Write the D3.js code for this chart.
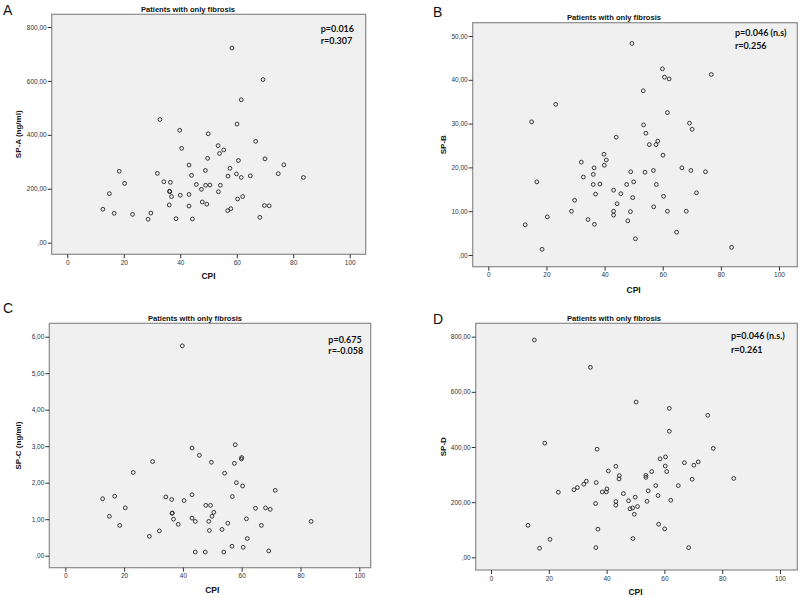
<!DOCTYPE html>
<html><head><meta charset="utf-8">
<script src="https://cdn.jsdelivr.net/npm/d3@7"></script>
<style>body{margin:0;background:#fff}svg{display:block}</style>
</head><body>
<svg id="c" width="800" height="598"></svg>
<script>
const title = "Patients with only fibrosis";
const xLabel = "CPI";
const cpiTicks = [0, 20, 40, 60, 80, 100];
const spaTicks = [0, 200, 400, 600, 800];
const spbTicks = [0, 10, 20, 30, 40, 50];
const spcTicks = [0, 1, 2, 3, 4, 5, 6];
const spdTicks = [0, 200, 400, 600, 800];

const cpiA = [12.6,14.9,16.6,18.4,20.3,23.1,28.6,29.6,31.9,32.8,34.2,36.1,36.2,36.3,36.5,36.9,38.5,39.8,40.0,40.5,43.1,43.1,43.1,44.0,44.3,45.7,47.5,47.8,48.9,49.0,49.4,49.7,49.9,50.5,53.4,53.5,53.9,54.2,55.4,56.8,56.9,57.6,57.9,58.3,59.9,60.1,60.3,60.6,61.6,61.6,62.1,64.8,66.7,68.2,69.3,69.8,70.0,71.5,74.7,76.7,83.6];
const spA = [124,182,109,265,220,105,87,110,257,457,226,140,191,189,224,171,89,417,176,350,288,179,136,250,88,216,198,151,268,213,143,313,404,214,360,189,331,213,344,119,247,276,126,722,255,440,162,305,530,242,171,248,376,94,605,138,311,137,256,289,242];

const cpiB = [12.7,14.9,16.7,18.5,20.3,23.2,28.6,29.7,32.0,32.7,34.3,36.1,36.1,36.4,36.5,36.9,38.4,39.8,39.9,40.6,43.1,43.1,43.1,44.0,44.3,45.6,47.6,48.0,48.9,49.0,49.4,49.7,50.0,50.6,53.3,53.4,53.9,54.2,55.4,56.8,56.9,57.7,57.8,58.3,59.9,60.1,60.3,60.6,61.6,61.6,62.2,64.8,66.6,68.1,69.2,69.7,70.1,71.6,74.7,76.7,83.7];
const spB = [6.9,30.4,16.7,1.3,8.7,34.4,10.0,12.5,21.2,17.8,8.1,18.4,16.1,19.9,7.0,13.9,16.2,23.0,20.5,21.7,14.8,10.0,9.1,26.9,11.7,14.0,16.1,7.8,9.9,19.0,48.3,13.1,16.7,3.7,37.5,29.7,18.9,27.8,25.2,19.3,11.0,25.2,16.1,26.0,42.5,22.8,13.4,40.6,10.0,32.5,40.2,5.2,19.9,10.0,30.1,19.3,28.7,14.2,19.0,41.2,1.75];

const cpiC = [12.7,15.0,16.8,18.5,20.4,23.1,28.6,29.7,32.0,34.2,36.2,36.3,36.4,36.8,38.4,39.8,40.4,43.1,43.1,43.1,44.2,44.2,45.6,47.6,47.8,48.8,49.0,49.4,49.7,49.9,50.5,53.3,53.9,54.2,55.3,56.8,56.7,57.5,57.8,58.2,59.9,60.0,60.3,60.5,61.6,61.9,64.7,66.7,68.1,69.2,69.7,71.4,83.6];
const spC = [1.56,1.08,1.63,0.83,1.31,2.28,0.53,2.58,0.68,1.61,1.54,1.16,1.17,1.00,0.86,5.75,1.51,2.95,1.67,1.03,0.94,0.10,2.75,0.10,1.38,0.94,0.69,1.38,2.56,1.08,1.19,0.72,0.10,2.26,0.89,1.62,0.26,2.53,3.04,2.00,2.65,2.69,1.91,0.23,1.01,0.47,1.30,0.83,1.31,0.13,1.27,1.79,0.94];

const cpiD = [12.8,15.0,16.8,18.6,20.4,23.3,28.7,29.9,32.1,33.0,34.4,36.2,36.3,36.4,36.7,37.0,38.5,39.9,40.1,40.6,43.2,43.2,43.2,44.4,44.3,45.8,47.6,48.1,49.0,49.1,49.6,49.9,50.2,50.7,53.6,53.6,54.0,54.4,55.6,57.0,57.8,58.0,58.5,60.1,60.4,60.3,60.8,61.7,61.7,62.2,64.8,66.9,68.4,69.6,70.2,71.7,75.0,76.9,84.0];
const spD = [116,788,33,414,65,236,245,253,265,276,689,195,35,271,392,102,237,237,248,313,330,202,189,296,284,231,205,176,179,68,156,218,563,184,290,297,203,241,311,260,224,120,357,103,364,331,311,540,457,207,260,343,35,283,334,346,515,395,286];

const panelLetters = ["A", "B", "C", "D"];
const yLabels = ["SP-A (ng/ml)", "SP-B", "SP-C (ng/ml)", "SP-D"];
const stats = [["p=0.016", "r=0.307"], ["p=0.046 (n.s)", "r=0.256"], ["p=0.675", "r=-0.058"], ["p=0.046 (n.s.)", "r=0.261"]];

// layout (pixels)
const panels = [
  {cpi: cpiA, val: spA, yTicks: spaTicks, frame: [51.7, 14.3, 365.7, 254.3], xr: [67.3, 349.7], yr: [242.7, 27], letter: [3, 15], title: [188, 12], yLabX: 18.5, statXY: [320.7, 32, 44], xLabY: 279},
  {cpi: cpiB, val: spB, yTicks: spbTicks, frame: [472.7, 22.7, 797.3, 266.7], xr: [488.3, 779], yr: [255, 36], letter: [433, 17], title: [614, 20], yLabX: 443, statXY: [735, 36, 48.5], xLabY: 292.5},
  {cpi: cpiC, val: spC, yTicks: spcTicks, frame: [49.3, 323.3, 370.7, 567.7], xr: [65.3, 359.3], yr: [555.7, 336.7], letter: [3, 313], title: [195, 320.5], yLabX: 18.5, statXY: [328.3, 343, 354], xLabY: 593},
  {cpi: cpiD, val: spD, yTicks: spdTicks, frame: [475.7, 323.3, 797.3, 570], xr: [491, 780], yr: [557.3, 336.7], letter: [433, 324], title: [614, 321], yLabX: 443, statXY: [731, 338.5, 352.5], xLabY: 595}
];

const fmt = v => v === 0 ? ",00" : v.toFixed(2).replace(".", ",");
const svg = d3.select("#c");

panels.forEach((p, i) => {
  const [fx0, fy0, fx1, fy1] = p.frame;
  const yMax = p.yTicks[p.yTicks.length - 1];
  const x = d3.scaleLinear().domain([0, 100]).range(p.xr);
  const y = d3.scaleLinear().domain([0, yMax]).range(p.yr);
  const g = svg.append("g");

  g.append("rect").attr("x", fx0).attr("y", fy0).attr("width", fx1 - fx0).attr("height", fy1 - fy0)
    .attr("fill", "#f0f0f0").attr("stroke", "#8a8a8a").attr("stroke-width", 1.2);

  const xa = g.append("g").attr("transform", `translate(0,${fy1})`)
    .call(d3.axisBottom(x).tickValues(cpiTicks).tickSize(4).tickPadding(2).tickFormat(d3.format("d")));
  const ya = g.append("g").attr("transform", `translate(${fx0},0)`)
    .call(d3.axisLeft(y).tickValues(p.yTicks).tickSize(4).tickPadding(1).tickFormat(fmt));
  [xa, ya].forEach(a => {
    a.select(".domain").remove();
    a.selectAll("line").attr("stroke", "#333").attr("stroke-width", 1);
    a.selectAll("text").attr("font-family", "Liberation Sans, Arial, sans-serif").attr("font-size", 6.5).attr("fill", "#333");
  });

  const pts = p.cpi.map((c, k) => ({c, v: p.val[k]}));
  g.append("g").selectAll("circle").data(pts).join("circle")
    .attr("cx", d => x(d.c)).attr("cy", d => y(d.v)).attr("r", 1.9)
    .attr("fill", "none").attr("stroke", "#222").attr("stroke-width", 0.9);

  g.append("text").attr("x", p.title[0]).attr("y", p.title[1]).attr("text-anchor", "middle")
    .attr("font-family", "Liberation Sans, Arial, sans-serif").attr("font-weight", "bold").attr("font-size", 7.6)
    .attr("fill", "#111").text(title);

  g.append("text").attr("x", p.letter[0]).attr("y", p.letter[1])
    .attr("font-family", "Liberation Sans, Arial, sans-serif").attr("font-size", 14).attr("fill", "#111")
    .text(panelLetters[i]);

  g.append("text").attr("transform", `translate(${p.yLabX},${(fy0 + fy1) / 2}) rotate(-90)`)
    .attr("text-anchor", "middle").attr("dy", "0.35em")
    .attr("font-family", "Liberation Sans, Arial, sans-serif").attr("font-weight", "bold").attr("font-size", 8)
    .attr("fill", "#111").text(yLabels[i]);

  g.append("text").attr("x", x(50)).attr("y", p.xLabY).attr("text-anchor", "middle")
    .attr("font-family", "Liberation Sans, Arial, sans-serif").attr("font-weight", "bold").attr("font-size", 8.5)
    .attr("fill", "#111").text(xLabel);

  stats[i].forEach((s, k) => {
    g.append("text").attr("x", p.statXY[0]).attr("y", p.statXY[1 + k])
      .attr("font-family", "Lato, Open Sans, sans-serif").attr("font-weight", "bold").attr("font-size", 9)
      .attr("fill", "#111").text(s);
  });
});
</script>
</body></html>
